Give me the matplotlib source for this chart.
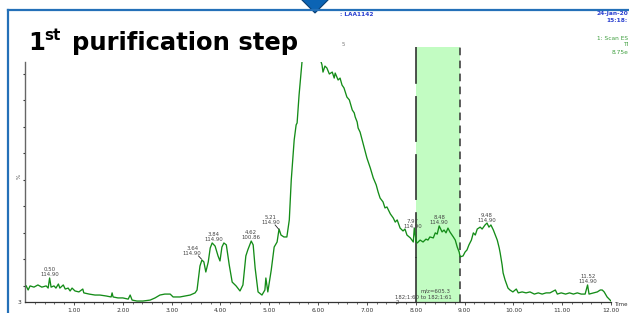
import matplotlib
matplotlib.use("Agg")
import matplotlib.pyplot as plt
from matplotlib.patches import Polygon
from matplotlib.lines import Line2D
import numpy as np

# chromatogram trace: time (min) and relative intensity (%)
time = [0.02, 0.06, 0.10, 0.18, 0.26, 0.34, 0.43, 0.47, 0.50, 0.53, 0.59, 0.63, 0.68, 0.71,
        0.78, 0.82, 0.88, 0.92, 0.96, 1.02, 1.10, 1.18, 1.20, 1.31, 1.43, 1.53, 1.66, 1.76,
        1.78, 1.80, 1.90, 2.00, 2.11, 2.15, 2.19, 2.29, 2.41, 2.56, 2.66, 2.76, 2.86, 2.97,
        3.03, 3.17, 3.27, 3.38, 3.48, 3.52, 3.58, 3.62, 3.66, 3.70, 3.75, 3.79, 3.83, 3.89,
        3.95, 3.99, 4.03, 4.07, 4.12, 4.18, 4.24, 4.32, 4.40, 4.46, 4.52, 4.56, 4.63, 4.67,
        4.71, 4.77, 4.85, 4.91, 4.93, 4.97, 5.04, 5.10, 5.16, 5.20, 5.24, 5.30, 5.36, 5.41,
        5.45, 5.51, 5.55, 5.57, 5.61, 5.67, 5.76, 5.84, 5.92, 6.00, 6.08, 6.10, 6.14, 6.18,
        6.23, 6.29, 6.33, 6.35, 6.41, 6.45, 6.49, 6.53, 6.59, 6.64, 6.70, 6.74, 6.76, 6.80,
        6.82, 6.86, 6.92, 6.96, 7.00, 7.07, 7.13, 7.19, 7.23, 7.27, 7.33, 7.37, 7.41, 7.48,
        7.54, 7.58, 7.62, 7.68, 7.74, 7.78, 7.82, 7.89, 7.95, 7.97, 8.01, 8.03, 8.09, 8.15,
        8.21, 8.25, 8.29, 8.36, 8.40, 8.44, 8.48, 8.54, 8.58, 8.62, 8.66, 8.70, 8.77, 8.81,
        8.85, 8.89, 8.91, 8.97, 9.01, 9.05, 9.09, 9.14, 9.18, 9.22, 9.26, 9.32, 9.36, 9.42,
        9.46, 9.50, 9.54, 9.59, 9.63, 9.67, 9.71, 9.73, 9.77, 9.79, 9.83, 9.89, 9.93, 9.99,
        10.06, 10.10, 10.18, 10.26, 10.34, 10.43, 10.51, 10.59, 10.67, 10.75, 10.86, 10.90,
        10.98, 11.07, 11.15, 11.23, 11.31, 11.39, 11.47, 11.52, 11.55, 11.64, 11.72, 11.78,
        11.82, 11.86, 11.92, 11.98, 12.02]
intensity = [6.7, 5.0, 6.7, 6.2, 7.1, 6.2, 6.7, 5.8, 10.0, 6.2, 6.7, 5.8, 7.5, 5.8,
             7.1, 5.4, 5.8, 4.6, 5.8, 4.6, 4.2, 5.4, 3.8, 3.3, 2.9, 2.9, 2.5, 2.1,
             3.8, 2.1, 1.7, 1.7, 1.2, 2.9, 0.8, 0.4, 0.4, 0.8, 1.7, 2.9, 3.3, 3.3,
             2.1, 2.1, 2.5, 2.9, 3.8, 5.0, 15.0, 17.5, 16.7, 12.5, 16.7, 22.5, 24.6, 23.3,
             19.2, 17.1, 22.9, 24.6, 23.8, 15.4, 8.3, 6.7, 4.6, 7.1, 19.2, 21.7, 25.4, 23.8,
             14.2, 4.2, 2.9, 5.0, 10.0, 4.2, 13.3, 22.9, 25.0, 30.4, 27.9, 27.1, 27.1, 34.2,
             50.8, 67.5, 73.8, 74.6, 86.2, 100.0, 108.0, 112.0, 110.0, 104.0, 98.8, 95.8, 98.3, 97.5,
             95.0, 95.8, 93.3, 95.4, 92.5, 93.3, 90.4, 89.2, 85.4, 84.2, 80.0, 78.8, 77.1, 75.0,
             72.5, 70.8, 66.2, 63.3, 60.0, 55.8, 51.7, 48.8, 45.8, 43.3, 41.7, 39.2, 39.6, 36.7,
             35.0, 33.3, 34.2, 30.8, 29.6, 30.4, 27.9, 26.7, 25.0, 30.8, 25.0, 24.6, 25.8, 25.0,
             26.2, 25.8, 27.1, 26.7, 28.8, 28.3, 31.7, 29.2, 30.0, 28.8, 30.8, 29.2, 27.1, 25.8,
             22.9, 20.8, 18.8, 19.2, 20.8, 21.7, 23.8, 25.8, 28.8, 27.9, 30.4, 31.2, 30.4, 32.1,
             32.9, 31.2, 32.1, 30.0, 27.9, 25.8, 22.5, 20.4, 15.4, 12.1, 9.2, 5.8, 5.0, 4.2,
             5.4, 3.8, 4.2, 3.8, 4.2, 3.3, 3.8, 3.3, 3.8, 3.8, 5.0, 3.3,
             3.8, 3.3, 3.8, 3.3, 3.8, 3.3, 3.3, 7.1, 3.3, 3.8, 4.2, 5.0,
             5.0, 4.2, 2.1, 0.8, 0.0]

# labelled peaks: (time, intensity, label)
peak_times = [0.50, 3.62, 3.83, 4.63, 5.20, 7.97, 8.48, 9.46, 11.52]
peak_values = [10.0, 17.5, 24.6, 25.4, 30.4, 30.8, 31.7, 32.9, 7.1]
peak_labels = ["0.50\n114.90", "3.64\n114.90", "3.84\n114.90", "4.62\n100.86", "5.21\n114.90",
               "7.97\n114.90", "8.48\n114.90", "9.48\n114.90", "11.52\n114.90"]
label_offsets = [(0, 1), (-7, 3), (1, 1), (0, 1), (-6, 3), (-1, -1), (0, 1), (0, 0), (0, 1)]

band_start, band_end = 8.0, 8.9
x_ticks = [1, 2, 3, 4, 5, 6, 7, 8, 9, 10, 11, 12]
x_tick_labels = ["1.00", "2.00", "3.00", "4.00", "5.00", "6.00", "7.00", "8.00", "9.00",
                 "10.00", "11.00", "12.00"]
y_ticks = [6.7, 17.9, 28.8, 40.0, 50.8, 62.1, 72.9, 84.2, 95.0]

W, H = 629, 313


def fx(px):
    return px / W


def fy(py):
    return 1 - py / H


fig = plt.figure(figsize=(6.29, 3.13), dpi=100)
fig.patch.set_facecolor("white")

ax = fig.add_axes([25.2 / W, 1 - 302 / H, 585.8 / W, 240 / H])
ax.set_xlim(0, 12.0)
ax.set_ylim(0, 100)

ax.axvspan(band_start, band_end, ymin=0, ymax=255 / 240, color="#c2fcc2", lw=0,
           clip_on=False, zorder=0)
top_v = 255 / 2.4
ax.plot([band_start, band_start], [18.3, top_v], color="#222222", lw=1.1,
        dashes=(30, 8), clip_on=False, zorder=1)
ax.plot([band_start, band_start], [0, 18.3], color="#222222", lw=1.1, zorder=1)
ax.plot([band_end, band_end], [0, top_v], color="#333333", lw=1.1,
        dashes=(5, 3.5), clip_on=False, zorder=1)

ax.plot(time, intensity, color="#148c18", lw=0.95, zorder=3)

for t, v, lab, (dx, dy) in zip(peak_times, peak_values, peak_labels, label_offsets):
    ax.annotate(lab, xy=(t, v), xytext=(dx, dy), textcoords="offset points",
                ha="center", va="bottom", fontsize=3.9, color="#444444",
                linespacing=1.0, zorder=4)
ax.plot([3.55, 3.61], [19.2, 17.9], color="#222222", lw=0.6, zorder=4)
ax.plot([5.12, 5.19], [32.1, 30.4], color="#222222", lw=0.6, zorder=4)

ax.text(8.4, 4.6, "m/z=605.3", fontsize=3.9, color="#444444", ha="center", va="center")
ax.text(8.16, 2.0, "182;1:60 to 182;1:61", fontsize=3.9, color="#444444",
        ha="center", va="center")
ax.text(7.62, -0.1, "2", fontsize=3.9, color="#444444", ha="center", va="center")

for s in ["top", "right"]:
    ax.spines[s].set_visible(False)
ax.spines["left"].set_color("#666666")
ax.spines["left"].set_linewidth(1.0)
ax.spines["bottom"].set_color("#333333")
ax.spines["bottom"].set_linewidth(0.9)

ax.set_xticks(x_ticks)
ax.set_xticklabels(x_tick_labels)
ax.set_xticks(np.arange(0.2, 12.01, 0.2), minor=True)
ax.tick_params(axis="x", which="major", length=2.5, width=0.6, pad=1.5,
               labelsize=4.3, labelcolor="#333333", color="#333333")
ax.tick_params(axis="x", which="minor", length=1.5, width=0.5, color="#333333")
ax.set_yticks(y_ticks)
ax.set_yticklabels([])
ax.tick_params(axis="y", length=1.5, width=0.8, color="#333333")

# frame and header of the slide
fig.add_artist(Line2D([fx(8), fx(8)], [fy(9.5), fy(313)], color="#2470b8", lw=1.6))
fig.add_artist(Line2D([fx(7.5), fx(629)], [fy(10), fy(10)], color="#2470b8", lw=1.6))
fig.add_artist(Polygon([[fx(301), fy(-1)], [fx(329), fy(-1)], [fx(315), fy(13)]],
                       closed=True, facecolor="#0c64b4", edgecolor="#0a3f73", lw=0.8))

fig.text(fx(28), fy(50), "1", fontsize=17.5, fontweight="bold", color="black",
         ha="left", va="baseline")
fig.text(fx(44), fy(40), "st", fontsize=11, fontweight="bold", color="black",
         ha="left", va="baseline")
fig.text(fx(72), fy(50), "purification step", fontsize=17.5, fontweight="bold",
         color="black", ha="left", va="baseline")

fig.text(fx(340), fy(14), ": LAA1142", fontsize=4.2, fontweight="bold", color="#2a3fcf",
         ha="left", va="center")
fig.text(fx(628), fy(14), "24-Jan-20", fontsize=4.2, fontweight="bold", color="#2a3fcf",
         ha="right", va="center")
fig.text(fx(628), fy(20), "15:18:", fontsize=4.2, fontweight="bold", color="#2a3fcf",
         ha="right", va="center")
fig.text(fx(628), fy(38), "1: Scan ES", fontsize=4.2, color="#3f9f3f",
         ha="right", va="center")
fig.text(fx(628), fy(45), "TI", fontsize=4.2, color="#3f9f3f", ha="right", va="center")
fig.text(fx(628), fy(52), "8.75e", fontsize=4.2, color="#3f9f3f", ha="right", va="center")
fig.text(fx(343), fy(44), "5", fontsize=3.8, color="#777777", ha="center", va="center")
fig.text(fx(19), fy(176), "%", fontsize=4.0, color="#555555", ha="center", va="center",
         rotation=90)
fig.text(fx(19), fy(303), "3", fontsize=4.3, color="#333333", ha="center", va="center")
fig.text(fx(628), fy(305), "Time", fontsize=4.0, color="#333333", ha="right", va="center")

fig.savefig("out.png", dpi=100)
plt.close("all")
